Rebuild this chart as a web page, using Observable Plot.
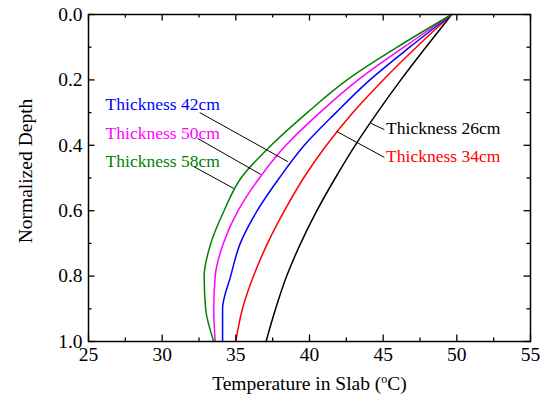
<!DOCTYPE html>
<html><head><meta charset="utf-8">
<script src="https://cdn.jsdelivr.net/npm/d3@7"></script>
<script src="https://cdn.jsdelivr.net/npm/@observablehq/plot@0.6"></script>
<style>
body{margin:0;background:#fff}
svg{display:block}
#chart svg, #chart svg text, #chart svg tspan { font-family: "Liberation Serif", "Times New Roman", serif !important; }
</style>
</head><body><div id="chart"></div>
<script>
// ---- data ----
const depth = [0, 0.1, 0.2, 0.3, 0.4, 0.5, 0.6, 0.7, 0.8, 0.9, 1.0];
const t26 = [49.65, 47.9, 46.2, 44.6, 43.1, 41.75, 40.5, 39.4, 38.45, 37.7, 37.05];
const t34 = [49.65, 47.25, 45.0, 42.95, 41.15, 39.6, 38.3, 37.15, 36.2, 35.45, 35.0];
const t42 = [49.65, 46.8, 44.1, 41.8, 39.65, 37.95, 36.45, 35.3, 34.65, 34.1, 34.1];
const t50 = [49.65, 46.4, 43.3, 40.7, 38.4, 36.6, 35.15, 34.15, 33.6, 33.5, 33.6];
const t58 = [49.65, 45.95, 42.55, 39.85, 37.4, 35.35, 34.2, 33.3, 32.85, 32.95, 33.5];
const seriesNames = ["Thickness 26cm", "Thickness 34cm", "Thickness 42cm", "Thickness 50cm", "Thickness 58cm"];
const seriesColors = ["#000000", "#ff0000", "#0000ff", "#ff00ff", "#008000"];
const xMajor = [25, 30, 35, 40, 45, 50, 55];
const xMinor = [27.5, 32.5, 37.5, 42.5, 47.5, 52.5];
const yMajor = [0, 0.2, 0.4, 0.6, 0.8, 1.0];
const yMinor = [0.1, 0.3, 0.5, 0.7, 0.9];
// label anchors (temperature, depth) and leader lines
const labelT = [45.2, 45.2, 26.16, 26.16, 26.16];
const labelD = [0.349, 0.434, 0.275, 0.364, 0.45];
const leadT1 = [45.08, 45.08, 32.55, 32.41, 32.14];
const leadD1 = [0.352, 0.437, 0.300, 0.379, 0.465];
const leadT2 = [44.17, 41.86, 38.53, 36.69, 34.86];
const leadD2 = [0.333, 0.358, 0.450, 0.489, 0.532];
const xTitle = "Temperature in Slab (oC)";
const yTitle = "Normalized Depth";

// ---- build tables ----
const temps = [t26, t34, t42, t50, t58];
const lineMarks = temps.map((arr, i) =>
  Plot.line(arr.map((t, j) => ({t, d: depth[j]})), {x: "t", y: "d", stroke: seriesColors[i], strokeWidth: 1.5, curve: "monotone-y"})
);
const labels = seriesNames.map((s, i) => ({s, c: seriesColors[i], t: labelT[i], d: labelD[i]}));
const leaders = seriesNames.map((s, i) => ({x1: leadT1[i], y1: leadD1[i], x2: leadT2[i], y2: leadD2[i]}));

const W = 551, H = 398, mL = 88, mR = 21, mT = 14, mB = 57;
const innerW = W - mL - mR, innerH = H - mT - mB;
const font = "Liberation Serif";
const majLen = 6.5, minLen = 3.5;

const chart = Plot.plot({
  width: W, height: H,
  marginLeft: mL, marginRight: mR, marginTop: mT, marginBottom: mB,
  style: {background: "white", color: "black"},
  x: {domain: [25, 55]},
  y: {domain: [0, 1], reverse: true},
  color: {type: "identity"},
  marks: [
    ...lineMarks,
    Plot.link(leaders, {x1: "x1", y1: "y1", x2: "x2", y2: "y2", stroke: "black", strokeWidth: 1}),
    Plot.text(labels, {x: "t", y: "d", text: "s", fill: "c", textAnchor: "start", fontSize: 17.5, fontFamily: font}),
    // inward ticks on all four sides
    Plot.ruleX(xMajor, {x: d => d, insetTop: innerH - majLen, strokeWidth: 1.3}),
    Plot.ruleX(xMinor, {x: d => d, insetTop: innerH - minLen, strokeWidth: 1.3}),
    Plot.ruleX(xMajor, {x: d => d, insetBottom: innerH - majLen, strokeWidth: 1.3}),
    Plot.ruleX(xMinor, {x: d => d, insetBottom: innerH - minLen, strokeWidth: 1.3}),
    Plot.ruleY(yMajor, {y: d => d, insetRight: innerW - majLen, strokeWidth: 1.3}),
    Plot.ruleY(yMinor, {y: d => d, insetRight: innerW - minLen, strokeWidth: 1.3}),
    Plot.ruleY(yMajor, {y: d => d, insetLeft: innerW - majLen, strokeWidth: 1.3}),
    Plot.ruleY(yMinor, {y: d => d, insetLeft: innerW - minLen, strokeWidth: 1.3}),
    Plot.frame({stroke: "black", strokeWidth: 1.5}),
    Plot.axisX(xMajor, {anchor: "bottom", tickSize: 0, tickPadding: 6, fontSize: 19.5, fontFamily: font, label: null, tickFormat: d3.format("d")}),
    Plot.axisY(yMajor, {anchor: "left", tickSize: 0, tickPadding: 6, fontSize: 19.5, fontFamily: font, label: null, tickFormat: d3.format(".1f")}),
    Plot.text([xTitle], {text: d => d, frameAnchor: "bottom", lineAnchor: "middle", textAnchor: "middle", dy: 42, fontSize: 19.5, fontFamily: font}),
    Plot.text([yTitle], {text: d => d, frameAnchor: "left", textAnchor: "middle", lineAnchor: "middle", rotate: -90, dx: -63, dy: -7, fontSize: 19.5, fontFamily: font})
  ]
});

// superscript "o" in x title
d3.select(chart).selectAll("text").filter(function() { return this.textContent === xTitle; })
  .each(function() {
    const el = d3.select(this);
    el.text(null);
    el.append("tspan").text("Temperature in Slab (");
    el.append("tspan").attr("dy", "-7").attr("font-size", "12").text("o");
    el.append("tspan").attr("dy", "7").text("C)");
  });

document.getElementById("chart").appendChild(chart);
</script>
</body></html>
